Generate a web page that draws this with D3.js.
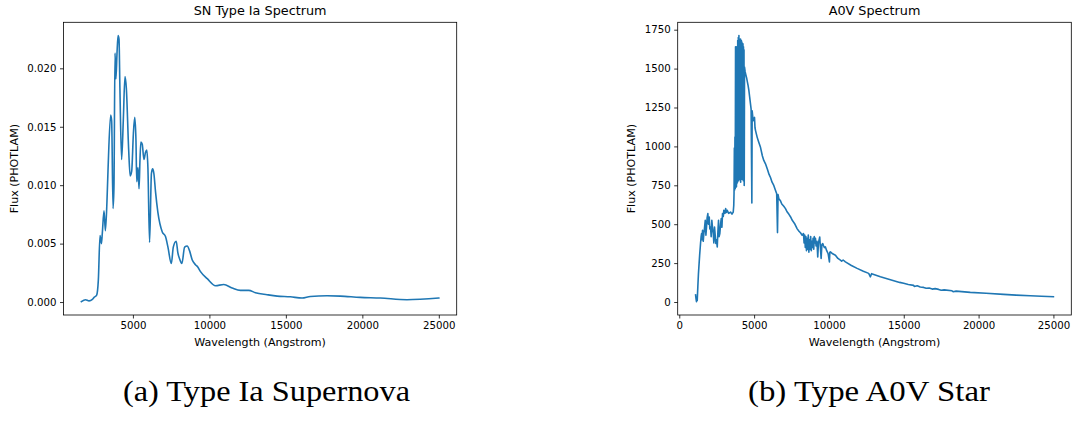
<!DOCTYPE html>
<html><head><meta charset="utf-8">
<script src="https://cdn.jsdelivr.net/npm/d3@7/dist/d3.min.js"></script>
<style>
html,body{margin:0;padding:0;background:#fff;}
svg{display:block;}
text{font-family:"DejaVu Sans",sans-serif;fill:#000;}
.cap{font-family:"Liberation Serif","Times New Roman",serif;}
</style></head>
<body>
<svg id="chart" width="1083" height="428"></svg>
<script>
// ---------- DATA ----------
const snTitle = "SN Type Ia Spectrum";
const a0vTitle = "A0V Spectrum";
const xLabel = "Wavelength (Angstrom)";
const yLabel = "Flux (PHOTLAM)";
const captions = ["(a) Type Ia Supernova", "(b) Type A0V Star"];

const snWave = [1630,1900,2130,2350,2460,2630,2740,2850,2940,3000,3110,3200,3300,3370,3545,3610,3700,3760,3830,3890,3960,4030,4090,4150,4260,4370,4480,4570,4720,4820,4920,5030,5120,5200,5250,5330,5400,5460,5520,5610,5720,5820,5910,5980,6090,6210,6290,6370,6480,6630,6920,7130,7290,7510,7640,7830,7940,8050,8200,8380,8550,8700,8880,9090,9240,9420,9860,10400,10940,11490,12030,12570,13010,13770,14430,15290,16060,16600,17690,18560,19860,21170,22910,25000];
const snFlux = [0.00003,0.00020,0.00010,0.00022,0.00040,0.00060,0.0019,0.0057,0.0050,0.0059,0.0078,0.0061,0.0085,0.0112,0.0160,0.0155,0.0080,0.0098,0.0213,0.0191,0.0213,0.0228,0.0225,0.0183,0.0122,0.0155,0.0193,0.0183,0.0131,0.0108,0.0112,0.0144,0.0158,0.0138,0.0103,0.0115,0.0097,0.0121,0.0137,0.0135,0.0122,0.0128,0.0130,0.0115,0.0051,0.0110,0.0114,0.0110,0.0094,0.0077,0.0060,0.0056,0.0047,0.0033,0.0047,0.0052,0.0042,0.0037,0.0033,0.0047,0.0048,0.0044,0.0036,0.0032,0.0030,0.0026,0.0020,0.0014,0.0015,0.0012,0.0010,0.0010,0.0008,0.00063,0.00051,0.00045,0.00034,0.00048,0.00054,0.00051,0.00040,0.00034,0.00020,0.00034];

const a0vWave = [1090,1120,1150,1170,1200,1240,1280,1310,1360,1420,1460,1490,1520,1555,1600,1642,1680,1736,1780,1822,1860,1909,1950,2003,2040,2089,2130,2176,2220,2270,2310,2356,2400,2443,2490,2537,2580,2623,2660,2710,2760,2804,2850,2890,2940,2977,3050,3100,3150,3204,3300,3425,3520,3605,
3640,3660,3680,3700,3720,3740,3760,3780,3800,3820,3835,3850,3870,3889,3905,3925,3945,3970,3985,4005,4020,4040,4060,4080,4090,4102,4115,4135,4150,4170,4185,4205,4220,4240,4255,4275,4290,4310,4325,4340,4360,
4400,4450,4500,4540,4600,4650,4700,4760,4800,4850,4870,4900,4940,5000,5027,5060,5100,5207,5300,5427,5550,5648,5761,5900,6000,6095,6200,6315,6420,6510,6563,6600,6650,6762,6850,6983,7096,7200,7317,7430,7550,7700,7880,8000,8098,8210,
8300,8340,8380,8420,8460,8500,8540,8580,8620,8660,8700,8740,8780,8820,8860,8900,8940,8985,9020,9060,9100,9140,9200,9253,9300,9386,9430,9479,9530,9586,9650,9700,9766,9850,9950,10033,10060,10100,10250,10434,10600,10768,10850,10950,11101,11500,11883,12300,12657,12770,12850,13438,13885,14726,14993,15300,15660,15700,15900,16100,16327,16500,16700,16900,17100,17330,17500,17700,18220,18300,18500,19446,20500,21669,22500,23451,24200,25000];
const a0vFlux = [45,20,2,30,10,98,180,226,300,376,420,440,400,461,390,440,470,525,430,482,540,568,500,546,470,482,420,525,480,440,380,482,430,376,400,354,450,525,420,440,500,536,480,568,550,589,570,600,575,589,570,578,565,578,
620,700,990,720,1060,730,1640,750,1600,740,1640,760,1590,770,1680,790,1700,780,1712,800,1690,790,1680,800,1690,770,1660,790,1680,800,1670,790,1650,790,1660,780,1640,790,1620,749,1510,
1480,1460,1440,1420,1390,1360,1320,1272,1240,636,1229,1200,1165,1180,1186,1120,1100,1058,1030,994,940,910,888,850,820,800,770,749,720,696,446,690,664,650,630,615,600,580,565,548,525,505,470,455,445,429,
440,380,430,350,420,330,410,340,430,320,400,340,420,330,390,350,410,340,420,380,410,360,390,290,380,418,350,280,370,376,360,350,354,330,310,258,320,322,310,301,280,269,262,270,258,235,216,198,184,162,182,162,150,126,120,112,107,100,104,96,94,88,90,83,86,81,76,78,72,66,70,62,56,49,44,40,37,34];

const snYTicks = [0, 0.005, 0.010, 0.015, 0.020];
const snXTicks = [5000, 10000, 15000, 20000, 25000];
const a0vYTicks = [0, 250, 500, 750, 1000, 1250, 1500, 1750];
const a0vXTicks = [0, 5000, 10000, 15000, 20000, 25000];

// ---------- DRAW ----------
const svg = d3.select("#chart");
const color = "#1f77b4";

function pad(ext){ const r = ext[1]-ext[0]; return [ext[0]-0.05*r, ext[1]+0.05*r]; }

function panel(opt){
  const {x0,x1,y0,y1,wave,flux,xticks,yticks,yfmt,title,ylabX,curve} = opt;
  const x = d3.scaleLinear().domain(pad(d3.extent(wave))).range([x0,x1]);
  const y = d3.scaleLinear().domain(pad(d3.extent(flux))).range([y1,y0]);
  const g = svg.append("g");
  const pts = wave.map((w,i)=>[w,flux[i]]);
  const line = d3.line().x(d=>x(d[0])).y(d=>y(d[1])).curve(curve);
  g.append("path").attr("d", line(pts)).attr("fill","none")
    .attr("stroke",color).attr("stroke-width",1.6).attr("stroke-linejoin","round").attr("stroke-linecap","square");

  const xa = d3.axisBottom(x).tickValues(xticks).tickSize(3.5).tickPadding(3.5).tickFormat(d3.format("d"));
  const gx = g.append("g").attr("transform",`translate(0,${y1})`).call(xa);
  const ya = d3.axisLeft(y).tickValues(yticks).tickSize(3.5).tickPadding(3.5).tickFormat(yfmt);
  const gy = g.append("g").attr("transform",`translate(${x0},0)`).call(ya);
  [gx,gy].forEach(a=>{
    a.select(".domain").remove();
    a.selectAll(".tick line").attr("stroke","#000").attr("stroke-width",0.8);
    a.selectAll(".tick text").attr("font-family","DejaVu Sans").attr("font-size",10.2).attr("fill","#111");
  });
  g.append("rect").attr("x",x0).attr("y",y0).attr("width",x1-x0).attr("height",y1-y0)
    .attr("fill","none").attr("stroke","#000").attr("stroke-width",0.8);

  g.append("text").attr("x",(x0+x1)/2).attr("y",14.5).attr("text-anchor","middle")
    .attr("font-size",12.8).attr("fill","#111").text(title);
  g.append("text").attr("x",(x0+x1)/2).attr("y",346).attr("text-anchor","middle")
    .attr("font-size",11.1).attr("fill","#111").text(xLabel);
  g.append("text").attr("transform",`translate(${ylabX},${(y0+y1)/2}) rotate(-90)`)
    .attr("text-anchor","middle").attr("font-size",11.1).attr("fill","#111").text(yLabel);
}

panel({x0:63.5,x1:456.7,y0:22.3,y1:315,wave:snWave,flux:snFlux,xticks:snXTicks,yticks:snYTicks,
  yfmt:d3.format(".3f"),title:snTitle,ylabX:17.5,curve:d3.curveMonotoneX});
panel({x0:677.7,x1:1071.3,y0:22.3,y1:315,wave:a0vWave,flux:a0vFlux,xticks:a0vXTicks,yticks:a0vYTicks,
  yfmt:d3.format("d"),title:a0vTitle,ylabX:634.5,curve:d3.curveLinear});

svg.append("text").attr("class","cap").attr("x",123).attr("y",401).attr("font-size",29)
  .attr("textLength",287).attr("lengthAdjust","spacingAndGlyphs").text(captions[0]);
svg.append("text").attr("class","cap").attr("x",748).attr("y",401).attr("font-size",29)
  .attr("textLength",242).attr("lengthAdjust","spacingAndGlyphs").text(captions[1]);
</script>
</body></html>
